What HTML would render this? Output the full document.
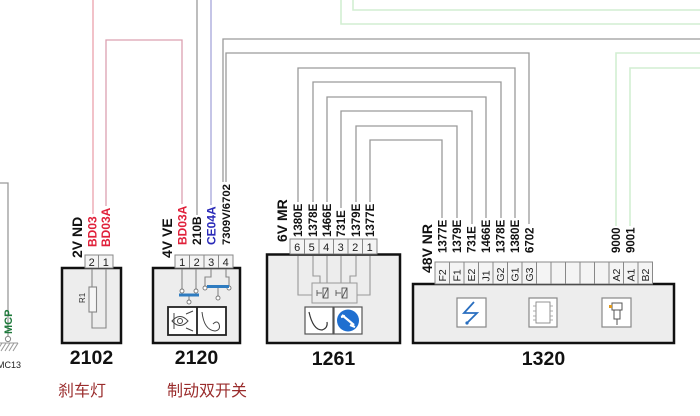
<!DOCTYPE html>
<html><head><meta charset="utf-8"><style>
html,body{margin:0;padding:0;background:#fff;}
svg{display:block;}
text{font-family:"Liberation Sans",Arial,sans-serif;}
.cjk{font-family:"Liberation Sans","Noto Sans CJK SC",sans-serif;}
</style></head><body>
<svg width="700" height="416" viewBox="0 0 700 416" xmlns="http://www.w3.org/2000/svg">
<rect width="700" height="416" fill="#fff"/>

<!-- green faint wires -->
<g fill="none" stroke="#d2eed2" stroke-width="1.6">
  <polyline points="341,0 341,24 700,24"/>
  <polyline points="353,0 353,10 700,10"/>
  <polyline points="616,226 616,53 700,53"/>
  <polyline points="630,226 630,68 700,68"/>
</g>

<!-- gray wires -->
<g fill="none" stroke="#9a9a9a" stroke-width="1.3">
  <polyline points="0,183 8,183 8,336"/>
  <line x1="197" y1="0" x2="197" y2="215"/>
  <polyline points="223,182 223,39 700,39"/>
  <polyline points="226,182 226,53 529,53 529,224"/>
  <polyline points="298,202 298,68 515,68 515,218"/>
  <polyline points="313,202 313,82 501,82 501,218"/>
  <polyline points="327,202 327,97 486,97 486,218"/>
  <polyline points="341,208 341,111 472,111 472,224"/>
  <polyline points="356,202 356,126 457,126 457,218"/>
  <polyline points="370,202 370,140 442,140 442,218"/>
</g>
<!-- red / blue wires -->
<g fill="none" stroke-width="1.3">
  <line x1="93" y1="0" x2="93" y2="214" stroke="#eaa2ac"/>
  <polyline points="106,206 106,40 182,40 182,204" stroke="#dca0b0"/>
  <line x1="211" y1="0" x2="211" y2="205" stroke="#a6a6da"/>
</g>

<!-- MCP ground -->
<circle cx="8" cy="339" r="2.6" fill="#fff" stroke="#888" stroke-width="1"/>
<g stroke="#999" stroke-width="1">
  <line x1="0" y1="343" x2="18" y2="343"/>
  <line x1="2" y1="343" x2="-3" y2="351"/>
  <line x1="6" y1="343" x2="1" y2="351"/>
  <line x1="10" y1="343" x2="5" y2="351"/>
  <line x1="14" y1="343" x2="9" y2="351"/>
  <line x1="18" y1="343" x2="13" y2="351"/>
</g>
<text x="-3" y="368" font-size="9" fill="#222">MC13</text>
<text transform="translate(12,334) rotate(-90)" font-size="11" font-weight="bold" fill="#1f7a3c">MCP</text>

<!-- ===== 2102 ===== -->
<rect x="62" y="268" width="59" height="75" fill="#ededed" stroke="#111" stroke-width="2.5"/>
<rect x="85" y="255" width="13.5" height="13" fill="#f4f4f4" stroke="#888" stroke-width="1"/>
<rect x="98.5" y="255" width="14.5" height="13" fill="#f4f4f4" stroke="#888" stroke-width="1"/>
<text x="91.7" y="266" font-size="11" text-anchor="middle" fill="#222">2</text>
<text x="105.8" y="266" font-size="11" text-anchor="middle" fill="#222">1</text>
<g fill="none" stroke="#888" stroke-width="1.1">
  <line x1="92" y1="269" x2="92" y2="287"/>
  <rect x="89" y="287" width="7.5" height="25" fill="#f6f6f6"/>
  <polyline points="92,312 92,328 106,328 106,269"/>
</g>
<text transform="translate(85,303) rotate(-90)" font-size="8" fill="#333">R1</text>
<text transform="translate(82,258) rotate(-90)" font-size="14" font-weight="bold" fill="#111">2V ND</text>
<text transform="translate(96.5,247) rotate(-90)" font-size="12" font-weight="bold" fill="#e0203a">BD03</text>
<text transform="translate(110,247) rotate(-90)" font-size="12" font-weight="bold" fill="#e0203a">BD03A</text>
<text x="91.5" y="364" font-size="19.5" font-weight="bold" text-anchor="middle" fill="#111">2102</text>
<text x="82" y="396" font-size="16" text-anchor="middle" fill="#9a2c2c" class="cjk">刹车灯</text>

<!-- ===== 2120 ===== -->
<rect x="153" y="268" width="87" height="75" fill="#ededed" stroke="#111" stroke-width="2.5"/>
<g fill="#f4f4f4" stroke="#888" stroke-width="1">
  <rect x="175" y="255" width="14.5" height="13"/>
  <rect x="189.5" y="255" width="14.5" height="13"/>
  <rect x="204" y="255" width="14.5" height="13"/>
  <rect x="218.5" y="255" width="14.5" height="13"/>
</g>
<g font-size="11" text-anchor="middle" fill="#222">
  <text x="182.2" y="266">1</text><text x="196.7" y="266">2</text>
  <text x="211.2" y="266">3</text><text x="225.7" y="266">4</text>
</g>
<g fill="none" stroke="#888" stroke-width="1.1">
  <line x1="182" y1="269" x2="182" y2="289"/>
  <line x1="196" y1="269" x2="196" y2="289"/>
  <polyline points="211,269 211,277 205,277 205,286"/>
  <polyline points="226,269 226,277 229,277 229,286"/>
  <line x1="189" y1="296" x2="189" y2="300"/>
  <line x1="218" y1="288" x2="218" y2="296"/>
</g>
<g fill="#fff" stroke="#777" stroke-width="0.9">
  <circle cx="182" cy="291" r="2"/><circle cx="196" cy="291" r="2"/>
  <circle cx="189" cy="302" r="2"/>
  <circle cx="205" cy="288" r="2"/><circle cx="229" cy="288" r="2"/>
  <circle cx="218" cy="298" r="2"/>
</g>
<rect x="179" y="293.5" width="20" height="3" fill="#2f7cc0"/>
<rect x="207" y="285" width="22" height="3" fill="#2f7cc0"/>
<!-- icons -->
<rect x="168" y="307" width="58" height="28" fill="#fff" stroke="#222" stroke-width="1.8"/>
<line x1="197" y1="307" x2="197" y2="335" stroke="#222" stroke-width="1.8"/>
<g fill="none" stroke="#444" stroke-width="1">
  <path d="M172,321 Q180,312 188,321 Q180,330 172,321 Z"/>
  <circle cx="180" cy="321" r="2.5"/>
  <line x1="174" y1="313" x2="174" y2="329"/>
  <line x1="186" y1="314" x2="193" y2="311"/>
  <line x1="186" y1="328" x2="193" y2="331"/>
  <path d="M202,312 Q204,330 215,331 Q221,330 219,324 Q217,320 213,324"/>
</g>
<text transform="translate(172,258) rotate(-90)" font-size="14" font-weight="bold" fill="#111">4V VE</text>
<text transform="translate(186.5,245) rotate(-90)" font-size="12" font-weight="bold" fill="#e0203a">BD03A</text>
<text transform="translate(201,245) rotate(-90)" font-size="12" font-weight="bold" fill="#111">210B</text>
<text transform="translate(215.5,245) rotate(-90)" font-size="12" font-weight="bold" fill="#2a2ab8">CE04A</text>
<text transform="translate(229.8,245) rotate(-90)" font-size="11.3" font-weight="bold" fill="#111">7309V/6702</text>
<text x="196.5" y="364" font-size="19.5" font-weight="bold" text-anchor="middle" fill="#111">2120</text>
<text x="207" y="396" font-size="16" text-anchor="middle" fill="#9a2c2c" class="cjk">制动双开关</text>

<!-- ===== 1261 ===== -->
<rect x="267" y="254.5" width="133" height="88.5" fill="#ededed" stroke="#111" stroke-width="2.5"/>
<g fill="#f4f4f4" stroke="#888" stroke-width="1">
  <rect x="290" y="239" width="14.5" height="15"/>
  <rect x="304.5" y="239" width="14.5" height="15"/>
  <rect x="319" y="239" width="14.5" height="15"/>
  <rect x="333.5" y="239" width="14.5" height="15"/>
  <rect x="348" y="239" width="14.5" height="15"/>
  <rect x="362.5" y="239" width="14.5" height="15"/>
</g>
<g font-size="11" text-anchor="middle" fill="#222">
  <text x="297.2" y="251">6</text><text x="311.7" y="251">5</text>
  <text x="326.2" y="251">4</text><text x="340.7" y="251">3</text>
  <text x="355.2" y="251">2</text><text x="369.7" y="251">1</text>
</g>
<g fill="none" stroke="#999" stroke-width="1.1">
  <polyline points="298,256 298,295 312,295"/>
  <polyline points="313,256 313,276 320,276 320,283"/>
  <line x1="327" y1="256" x2="327" y2="283"/>
  <line x1="341" y1="256" x2="341" y2="283"/>
  <polyline points="356,256 356,276 350,276 350,283"/>
  <polyline points="370,256 370,295 357,295"/>
</g>
<rect x="312" y="283" width="45" height="20" fill="#ececec" stroke="#999" stroke-width="1"/>
<g fill="none" stroke="#555" stroke-width="0.9">
  <line x1="317" y1="293" x2="322" y2="293"/><line x1="317" y1="290" x2="317" y2="296"/>
  <rect x="323" y="288" width="5" height="10"/><line x1="323" y1="298" x2="328" y2="288"/>
  <line x1="336" y1="293" x2="341" y2="293"/><line x1="336" y1="290" x2="336" y2="296"/>
  <rect x="342" y="288" width="5" height="10"/><line x1="342" y1="298" x2="347" y2="288"/>
</g>
<rect x="305" y="307" width="28" height="27" fill="#fff" stroke="#555" stroke-width="1.2"/>
<rect x="334" y="307" width="28" height="27" fill="#fff" stroke="#555" stroke-width="1.2"/>
<path d="M309,312 Q313,330 322,330 Q328,328 327,322" fill="none" stroke="#333" stroke-width="1.2"/>
<circle cx="348" cy="320.5" r="11" fill="#1f6fd0"/>
<path d="M342,315 L354,325 M341,317 L345,316 M350,325 L355,327" stroke="#fff" stroke-width="2.2" fill="none"/>
<text transform="translate(287,242) rotate(-90)" font-size="14" font-weight="bold" fill="#111">6V MR</text>
<g font-size="11.5" font-weight="bold" fill="#111">
  <text transform="translate(302.2,237) rotate(-90)">1380E</text>
  <text transform="translate(317.2,237) rotate(-90)">1378E</text>
  <text transform="translate(331.2,237) rotate(-90)">1466E</text>
  <text transform="translate(345.2,237) rotate(-90)">731E</text>
  <text transform="translate(360.2,237) rotate(-90)">1379E</text>
  <text transform="translate(374.2,237) rotate(-90)">1377E</text>
</g>
<text x="333.5" y="365" font-size="19.5" font-weight="bold" text-anchor="middle" fill="#111">1261</text>

<!-- ===== 1320 ===== -->
<rect x="413" y="284" width="261" height="59" fill="#ededed" stroke="#111" stroke-width="2.5"/>
<g fill="#f4f4f4" stroke="#888" stroke-width="1">
  <rect x="435" y="262" width="14.5" height="22"/>
  <rect x="449.5" y="262" width="14.5" height="22"/>
  <rect x="464" y="262" width="14.5" height="22"/>
  <rect x="478.5" y="262" width="14.5" height="22"/>
  <rect x="493" y="262" width="14.5" height="22"/>
  <rect x="507.5" y="262" width="14.5" height="22"/>
  <rect x="522" y="262" width="14.5" height="22"/>
  <rect x="536.5" y="262" width="14.5" height="22"/>
  <rect x="551" y="262" width="14.5" height="22"/>
  <rect x="565.5" y="262" width="14.5" height="22"/>
  <rect x="580" y="262" width="14.5" height="22"/>
  <rect x="594.5" y="262" width="14.5" height="22"/>
  <rect x="609" y="262" width="14.5" height="22"/>
  <rect x="623.5" y="262" width="14.5" height="22"/>
  <rect x="638" y="262" width="14.5" height="22"/>
</g>
<g font-size="10.5" fill="#222">
  <text transform="translate(446,281.5) rotate(-90)">F2</text>
  <text transform="translate(460.5,281.5) rotate(-90)">F1</text>
  <text transform="translate(475,281.5) rotate(-90)">E2</text>
  <text transform="translate(489.5,281.5) rotate(-90)">J1</text>
  <text transform="translate(504,281.5) rotate(-90)">G2</text>
  <text transform="translate(518.5,281.5) rotate(-90)">G1</text>
  <text transform="translate(533,281.5) rotate(-90)">G3</text>
  <text transform="translate(620,281.5) rotate(-90)">A2</text>
  <text transform="translate(634.5,281.5) rotate(-90)">A1</text>
  <text transform="translate(649,281.5) rotate(-90)">B2</text>
</g>
<text transform="translate(432,273) rotate(-90)" font-size="14" font-weight="bold" fill="#111">48V NR</text>
<g font-size="11.5" font-weight="bold" fill="#111">
  <text transform="translate(446.3,253) rotate(-90)">1377E</text>
  <text transform="translate(461,253) rotate(-90)">1379E</text>
  <text transform="translate(475.5,253) rotate(-90)">731E</text>
  <text transform="translate(490,253) rotate(-90)">1466E</text>
  <text transform="translate(504.5,253) rotate(-90)">1378E</text>
  <text transform="translate(519,253) rotate(-90)">1380E</text>
  <text transform="translate(533.5,253) rotate(-90)">6702</text>
  <text transform="translate(620,253) rotate(-90)">9000</text>
  <text transform="translate(634.5,253) rotate(-90)">9001</text>
</g>
<!-- icons -->
<rect x="457" y="298" width="29" height="29" fill="#fff" stroke="#888" stroke-width="1.2"/>
<path d="M474,302 L464,313 L477,313 L467,323" fill="none" stroke="#2a6fc0" stroke-width="1.8"/>
<circle cx="467" cy="323" r="1.6" fill="#2a6fc0"/>
<rect x="529" y="298" width="28" height="29" fill="#fff" stroke="#888" stroke-width="1.2"/>
<rect x="536" y="302" width="14" height="21" fill="#fff" stroke="#888" stroke-width="0.9"/>
<g stroke="#999" stroke-width="0.8">
  <line x1="533" y1="306" x2="536" y2="306"/><line x1="533" y1="311" x2="536" y2="311"/>
  <line x1="533" y1="316" x2="536" y2="316"/><line x1="533" y1="320" x2="536" y2="320"/>
  <line x1="550" y1="306" x2="553" y2="306"/><line x1="550" y1="311" x2="553" y2="311"/>
  <line x1="550" y1="316" x2="553" y2="316"/><line x1="550" y1="320" x2="553" y2="320"/>
</g>
<rect x="602" y="298" width="29" height="29" fill="#fff" stroke="#888" stroke-width="1.2"/>
<g fill="none" stroke="#555" stroke-width="1">
  <rect x="612" y="303" width="10" height="7"/>
  <rect x="614" y="310" width="6" height="9"/>
  <line x1="617" y1="319" x2="617" y2="325"/>
</g>
<rect x="609" y="305" width="3" height="3" fill="#e09a20"/>
<text x="543.5" y="365" font-size="19.5" font-weight="bold" text-anchor="middle" fill="#111">1320</text>
</svg>
</body></html>
